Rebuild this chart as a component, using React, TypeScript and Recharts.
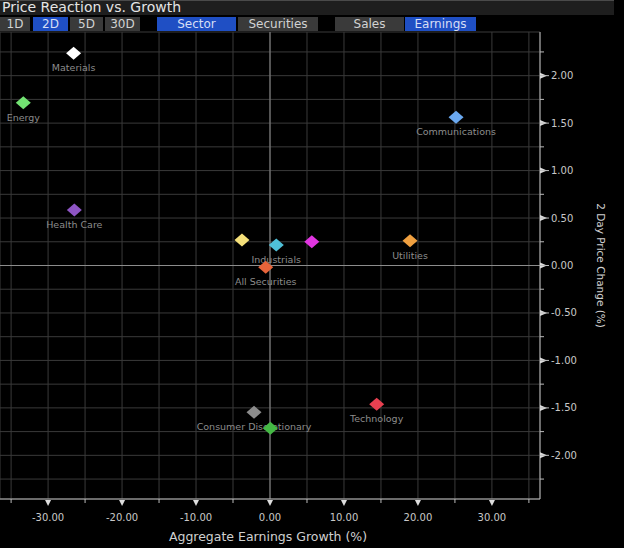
import React from 'react';
import { ScatterChart, Scatter, XAxis, YAxis, CartesianGrid, ReferenceLine } from 'recharts';

const sectorLabels = ['Materials', 'Energy', 'Health Care', '', 'Industrials', '', 'All Securities', 'Utilities', 'Communications', 'Technology', 'Consumer Discretionary', ''];
const earningsGrowth = [-26.55, -33.35, -26.45, -3.79, 0.85, 5.65, -0.58, 18.93, 25.15, 14.42, -2.16, 0.05];
const priceChange2D = [2.236, 1.715, 0.585, 0.269, 0.216, 0.251, -0.019, 0.261, 1.562, -1.463, -1.547, -1.715];
const pointColors = ['#ffffff', '#72e272', '#8e55c4', '#f5e07a', '#4fc0d8', '#e035e0', '#e8643a', '#f0a040', '#6aa8f0', '#e84050', '#8c8c8c', '#44b844'];

const xTicks = [-35, -30, -25, -20, -15, -10, -5, 0, 5, 10, 15, 20, 25, 30, 35];
const yTicks = [-2.25, -2, -1.75, -1.5, -1.25, -1, -0.75, -0.5, -0.25, 0, 0.25, 0.5, 0.75, 1, 1.25, 1.5, 1.75, 2, 2.25];

const chartTitle = 'Price Reaction vs. Growth';
const xTitle = 'Aggregate Earnings Growth (%)';
const yTitle = '2 Day Price Change (%)';

const buttonLabels = ['1D', '2D', '5D', '30D', 'Sector', 'Securities', 'Sales', 'Earnings'];
const buttonActive = [false, true, false, false, true, false, false, true];

const data = earningsGrowth.map((x, i) => ({
  x,
  y: priceChange2D[i],
  label: sectorLabels[i],
  color: pointColors[i],
}));

const FONT = '"DejaVu Sans", sans-serif';

const buttonBoxes = [
  { left: 0, width: 30 },
  { left: 33, width: 35 },
  { left: 70, width: 33 },
  { left: 105, width: 35 },
  { left: 157, width: 79 },
  { left: 238, width: 80 },
  { left: 335, width: 69 },
  { left: 405, width: 71 },
];

const XTick = (props: any) => {
  const { x, y, payload } = props;
  const v = payload.value;
  const major = Math.abs(v % 10) < 1e-6;
  if (!major) {
    return <line x1={x} x2={x} y1={y} y2={y + 4} stroke="#bbbbbb" strokeWidth={1} />;
  }
  return (
    <g>
      <polygon points={`${x - 3},${y + 1} ${x + 3},${y + 1} ${x},${y + 7}`} fill="#dddddd" />
      <text x={x} y={y + 18} dy="0.35em" textAnchor="middle" fill="#c8c8c8" fontSize={10} fontFamily={FONT}>
        {v.toFixed(2)}
      </text>
    </g>
  );
};

const YTick = (props: any) => {
  const { x, y, payload } = props;
  const v = payload.value;
  const major = Math.abs((v * 2) % 1) < 1e-6;
  if (!major) {
    return <line x1={x} x2={x + 4} y1={y} y2={y} stroke="#bbbbbb" strokeWidth={1} />;
  }
  return (
    <g>
      <polygon points={`${x},${y - 3} ${x},${y + 3} ${x + 7},${y}`} fill="#dddddd" />
      <line x1={x} x2={x + 9} y1={y} y2={y} stroke="#bbbbbb" strokeWidth={1} />
      <text x={x + 11} y={y} dy="0.35em" textAnchor="start" fill="#c8c8c8" fontSize={10} fontFamily={FONT}>
        {v.toFixed(2)}
      </text>
    </g>
  );
};

const DiamondShape = (props: any) => {
  const { cx, cy, payload } = props;
  const hw = 7.5;
  const hh = 6.5;
  return (
    <g>
      <polygon
        points={`${cx - hw},${cy} ${cx},${cy - hh} ${cx + hw},${cy} ${cx},${cy + hh}`}
        fill={payload.color}
      />
      {payload.label ? (
        <text x={cx} y={cy + 14.5} dy="0.35em" textAnchor="middle" fill="#8c8c8c" fontSize={9.5} fontFamily={FONT}>
          {payload.label}
        </text>
      ) : null}
    </g>
  );
};

export default function App() {
  return (
    <div style={{ position: 'absolute', left: 0, top: 0, width: 624, height: 548, background: '#000', overflow: 'hidden', fontFamily: FONT }}>
      <ScatterChart width={624} height={548} margin={{ top: 32, right: 0, bottom: 0, left: 0 }}>
        <CartesianGrid stroke="#3a3a3a" strokeWidth={1} />
        <XAxis
          type="number"
          dataKey="x"
          domain={[-36.5, 36.5]}
          ticks={xTicks}
          interval={0}
          height={49}
          tickSize={0}
          tickMargin={0}
          tickLine={false}
          axisLine={{ stroke: '#bbbbbb' }}
          tick={<XTick />}
          allowDataOverflow
          label={{
            content: (p: any) => {
              const vb = p.viewBox || {};
              return (
                <text x={vb.x + vb.width / 2 - 2} y={537} dy="0.35em" textAnchor="middle" fill="#d0d0d0" fontSize={12.5} fontFamily={FONT}>
                  {xTitle}
                </text>
              );
            },
          }}
        />
        <YAxis
          type="number"
          dataKey="y"
          orientation="right"
          domain={[-2.46, 2.46]}
          ticks={yTicks}
          interval={0}
          width={84}
          tickSize={0}
          tickMargin={0}
          tickLine={false}
          axisLine={{ stroke: '#bbbbbb' }}
          tick={<YTick />}
          allowDataOverflow
          label={{
            content: (p: any) => {
              const vb = p.viewBox || {};
              const cx = 601;
              const cy = vb.y + vb.height / 2;
              return (
                <text x={cx} y={cy} dy="0.35em" textAnchor="middle" fill="#d0d0d0" fontSize={10.5} fontFamily={FONT} transform={`rotate(90, ${cx}, ${cy})`}>
                  {yTitle}
                </text>
              );
            },
          }}
        />
        <ReferenceLine x={0} stroke="#8c8c8c" strokeWidth={1} />
        <ReferenceLine y={0} stroke="#8c8c8c" strokeWidth={1} />
        <Scatter data={data} shape={<DiamondShape />} isAnimationActive={false} />
      </ScatterChart>

      <div style={{ position: 'absolute', left: 0, top: 0, width: 614, height: 15, background: '#1e1e1e', borderTop: '1px solid #4a4a4a', boxSizing: 'border-box' }}>
        <div style={{ position: 'absolute', left: 2, top: -2, fontSize: 14, lineHeight: '16px', color: '#e4e4e4', whiteSpace: 'nowrap' }}>{chartTitle}</div>
      </div>
      {buttonLabels.map((b, i) => (
        <div
          key={b}
          style={{
            position: 'absolute',
            left: buttonBoxes[i].left,
            top: 17,
            width: buttonBoxes[i].width,
            height: 14,
            background: buttonActive[i] ? '#1f4fc4' : '#3a3a3a',
            color: buttonActive[i] ? '#d6def5' : '#d2d2d2',
            fontSize: 12,
            lineHeight: '14px',
            textAlign: 'center',
            whiteSpace: 'nowrap',
          }}
        >
          {b}
        </div>
      ))}
    </div>
  );
}
